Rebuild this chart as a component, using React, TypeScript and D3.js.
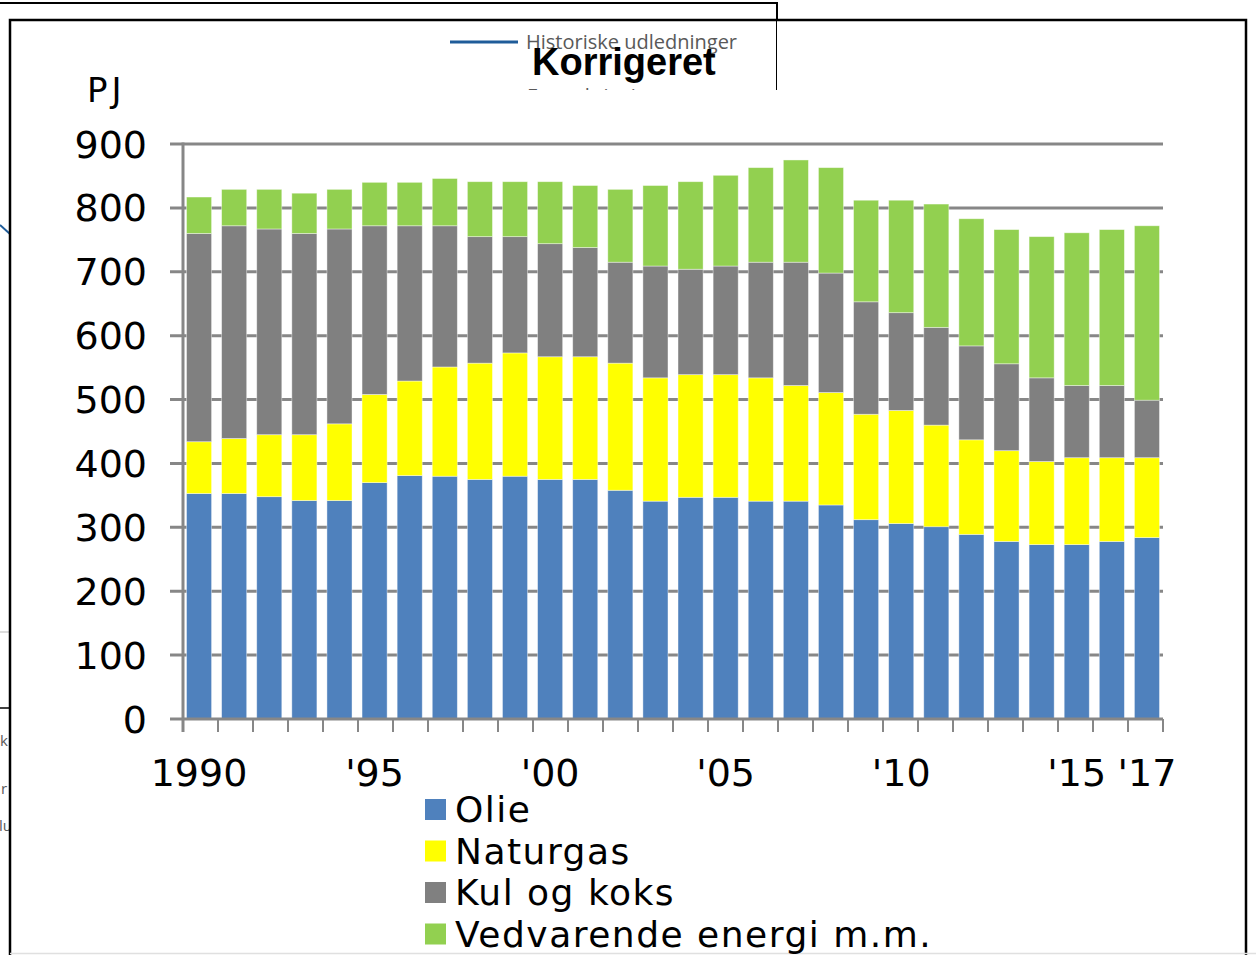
import React, { useEffect, useRef } from "react";
import * as d3 from "d3";

// years on the x axis
const years = d3.range(1990, 2018).map(String);

// PJ per fuel
const olie = [353, 353, 348, 342, 342, 370, 381, 380, 375, 380, 375, 375, 358, 341, 347, 347, 341, 341, 335, 312, 306, 301, 289, 278, 273, 273, 278, 284];
const naturgas = [81, 86, 97, 103, 120, 138, 148, 171, 182, 193, 192, 192, 199, 193, 192, 192, 193, 181, 176, 165, 177, 159, 148, 142, 130, 136, 131, 125];
const kul = [326, 333, 322, 315, 305, 264, 243, 221, 198, 182, 177, 171, 158, 175, 165, 170, 181, 193, 187, 176, 153, 153, 147, 136, 131, 113, 113, 90];
const vedvarende = [57, 57, 62, 63, 62, 68, 68, 74, 86, 86, 97, 97, 114, 126, 137, 142, 148, 160, 165, 159, 176, 193, 199, 210, 221, 239, 244, 273];

const seriesNames = ["Olie", "Naturgas", "Kul og koks", "Vedvarende energi m.m."];
const seriesColors = ["#4F81BD", "#FFFF00", "#808080", "#92D050"];

const yTicks = [0, 100, 200, 300, 400, 500, 600, 700, 800, 900];
const xLabels: [string, string][] = [
  ["1990", "1990"],
  ["1995", "'95"],
  ["2000", "'00"],
  ["2005", "'05"],
  ["2010", "'10"],
  ["2015", "'15"],
  ["2017", "'17"],
];

const W = 1256,
  H = 955;

const App = () => {
  const ref = useRef<SVGSVGElement>(null);

  useEffect(() => {
    const svg = d3.select(ref.current);
    svg.selectAll("*").remove();

    const font = "'DejaVu Sans', sans-serif";

    // --- the chart behind, peeking out at the edges ---
    const back = svg.append("g");
    back.append("path").attr("d", "M0,3 H777 V92").attr("fill", "none").attr("stroke", "#000").attr("stroke-width", 2);
    back.append("line").attr("x1", 450).attr("x2", 518).attr("y1", 42).attr("y2", 42)
      .attr("stroke", "#1F5C99").attr("stroke-width", 3);
    back.append("text").attr("x", 526).attr("y", 49).text("Historiske udledninger")
      .style("font-family", "'Open Sans', sans-serif").style("font-size", "20px").attr("fill", "#595959");
    back.append("text").attr("x", 527).attr("y", 103).text("Fremskrivning")
      .style("font-family", "'Open Sans', sans-serif").style("font-size", "20px").attr("fill", "#595959");
    back.append("text").attr("x", 532).attr("y", 75).text("Korrigeret")
      .style("font-family", "'Liberation Sans', Arial, sans-serif").style("font-size", "38px")
      .style("font-weight", "bold").attr("fill", "#000");
    back.append("line").attr("x1", 0).attr("x2", 10).attr("y1", 225).attr("y2", 234)
      .attr("stroke", "#1F5C99").attr("stroke-width", 2);
    back.append("line").attr("x1", 0).attr("x2", 10).attr("y1", 632).attr("y2", 632)
      .attr("stroke", "#d0d0d0").attr("stroke-width", 1.5);
    back.append("line").attr("x1", 0).attr("x2", 10).attr("y1", 708).attr("y2", 708)
      .attr("stroke", "#000").attr("stroke-width", 1.5);
    [["k", 0, 746], ["r", 1, 794], ["lu", -1, 831]].forEach(([t, x, y]) => {
      back.append("text").attr("x", x as number).attr("y", y as number).text(t as string)
        .style("font-family", "'Open Sans', sans-serif").style("font-size", "15px").attr("fill", "#595959");
    });

    // white cover of the front chart
    svg.append("rect").attr("x", 10).attr("y", 90).attr("width", 1236).attr("height", H - 90).attr("fill", "#fff");
    svg.append("rect").attr("x", 777).attr("y", 20).attr("width", 469).attr("height", 72).attr("fill", "#fff");
    svg.append("path").attr("d", "M10,955 V20 H1246 V955").attr("fill", "none").attr("stroke", "#000").attr("stroke-width", 2.5);
    svg.append("line").attr("x1", 10).attr("x2", 1256).attr("y1", 953.5).attr("y2", 953.5)
      .attr("stroke", "#e0e0e0").attr("stroke-width", 1.5);

    // --- front chart ---
    const x0 = 183,
      x1 = 1163,
      yBottom = 719,
      yTop = 144;

    const x = d3.scaleBand().domain(years).range([x0, x1]).paddingInner(0.2857).paddingOuter(0.1);
    const y = d3.scaleLinear().domain([0, 900]).range([yBottom, yTop]);

    const rows = years.map((yr, i) => ({
      year: yr,
      s0: olie[i],
      s1: naturgas[i],
      s2: kul[i],
      s3: vedvarende[i],
    }));
    const stack = d3.stack<any>().keys(["s0", "s1", "s2", "s3"]);
    const stacked = stack(rows);

    // gridlines (behind bars)
    svg.append("g")
      .selectAll("line")
      .data(yTicks.slice(1))
      .enter()
      .append("line")
      .attr("x1", x0 - 13)
      .attr("x2", x1)
      .attr("y1", (d) => y(d))
      .attr("y2", (d) => y(d))
      .attr("stroke", "#878787")
      .attr("stroke-width", 3);

    // bars
    svg.append("g")
      .selectAll("g")
      .data(stacked)
      .enter()
      .append("g")
      .attr("fill", (d, i) => seriesColors[i])
      .selectAll("rect")
      .data((d) => d)
      .enter()
      .append("rect")
      .attr("x", (d: any) => x(d.data.year) as number)
      .attr("width", x.bandwidth())
      .attr("y", (d) => y(d[1]))
      .attr("height", (d) => y(d[0]) - y(d[1]))
      .attr("stroke", "#ffffff")
      .attr("stroke-opacity", 0.5)
      .attr("stroke-width", 0.8);

    // axes
    svg.append("line").attr("x1", x0 - 13).attr("x2", x1).attr("y1", yBottom).attr("y2", yBottom)
      .attr("stroke", "#878787").attr("stroke-width", 3);
    svg.append("line").attr("x1", x0).attr("x2", x0).attr("y1", yTop - 1.5).attr("y2", yBottom + 13)
      .attr("stroke", "#878787").attr("stroke-width", 3);
    const tickStep = (x1 - x0) / years.length;
    svg.append("g")
      .selectAll("line")
      .data(d3.range(years.length + 1))
      .enter()
      .append("line")
      .attr("x1", (d) => x0 + d * tickStep)
      .attr("x2", (d) => x0 + d * tickStep)
      .attr("y1", yBottom)
      .attr("y2", yBottom + 13)
      .attr("stroke", "#878787")
      .attr("stroke-width", 2);

    // y labels
    svg.append("g")
      .selectAll("text")
      .data(yTicks)
      .enter()
      .append("text")
      .attr("x", 147)
      .attr("y", (d) => y(d) + 13.5)
      .attr("text-anchor", "end")
      .style("font-family", font)
      .style("font-size", "38px")
      .attr("fill", "#000")
      .text((d) => d);

    // x labels
    svg.append("g")
      .selectAll("text")
      .data(xLabels)
      .enter()
      .append("text")
      .attr("x", (d) => (x(d[0]) as number) + x.bandwidth() / 2)
      .attr("y", 786)
      .attr("text-anchor", "middle")
      .style("font-family", font)
      .style("font-size", "38px")
      .attr("fill", "#000")
      .text((d) => d[1]);

    // unit
    svg.append("text").attr("x", 87).attr("y", 102).text("PJ")
      .style("font-family", font).style("font-size", "34px").style("letter-spacing", "4px").attr("fill", "#000");

    // legend
    const leg = svg.append("g")
      .selectAll("g")
      .data(seriesNames)
      .enter()
      .append("g")
      .attr("transform", (d, i) => "translate(425," + (799 + i * 41.5) + ")");
    leg.append("rect").attr("width", 21).attr("height", 21).attr("fill", (d, i) => seriesColors[i]);
    leg.append("text")
      .attr("x", 30)
      .attr("y", 23)
      .style("font-family", font)
      .style("font-size", "36px")
      .style("letter-spacing", "1.5px")
      .attr("fill", "#000")
      .text((d) => d);
  }, []);

  return (
    <svg
      ref={ref}
      width={W}
      height={H}
      style={{ position: "absolute", left: 0, top: 0, background: "#fff" }}
    />
  );
};

export default App;
